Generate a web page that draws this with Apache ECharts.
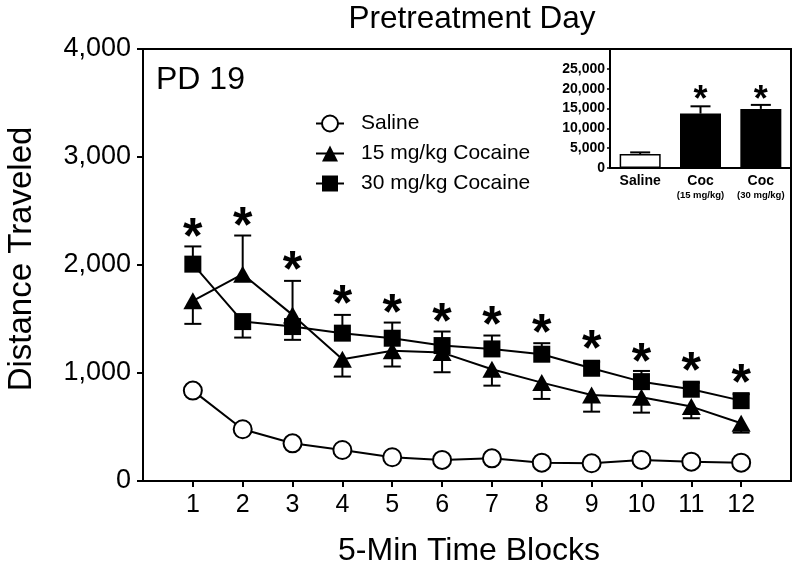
<!DOCTYPE html>
<html>
<head>
<meta charset="utf-8">
<script src="https://cdn.jsdelivr.net/npm/echarts@6/dist/echarts.min.js"></script>
<style>html,body{margin:0;padding:0;background:#fff}#chart{width:800px;height:571px}</style>
</head>
<body>
<div id="chart"></div>
<script>
// ---- data ----
const blocks = [1,2,3,4,5,6,7,8,9,10,11,12];
const saline = [837,479,349,287,220,195,210,170,164,195,179,170];
const salineSem = [40,30,25,20,20,20,20,15,15,20,15,15];
const salineDir = [-1,-1,-1,-1,-1,-1,-1,-1,-1,-1,-1,-1];
const coc15 = [1668,1915,1538,1128,1205,1189,1035,911,797,775,689,535];
const coc15Sem = [213,358,315,161,145,182,152,151,155,142,108,87];
const coc15Dir = [-1,1,1,-1,-1,-1,-1,-1,-1,-1,-1,-1];
const coc30 = [2008,1476,1430,1369,1322,1254,1223,1174,1044,920,850,744];
const coc30Sem = [164,148,123,169,145,130,124,102,60,99,60,60];
const coc30Dir = [1,-1,-1,1,1,1,1,1,1,1,1,1];
const sigY = [2333,2435,2023,1708,1631,1548,1517,1446,1291,1177,1091,982];

const insetCats = ['Saline','Coc (15 mg/kg)','Coc (30 mg/kg)'];
const insetMeans = [3535,13712,14899];
const insetSem = [400,1840,1010];
const insetSig = [null,18600,18600];
const insetTicks = [0,5000,10000,15000,20000,25000];

const FONT = 'Liberation Sans, Arial, sans-serif';
const fmt = v => Number(v).toLocaleString('en-US');

function errSeries(name, means, sems, dirs, xi, yi, hw) {
  return {
    type: 'custom', name: name, xAxisIndex: xi, yAxisIndex: yi, z: 1, silent: true,
    data: means.map((m, i) => [xi === 0 ? blocks[i] : i, m, sems[i], dirs[i]]),
    renderItem: function (params, api) {
      const x = api.value(0), m = api.value(1), s = api.value(2), d = api.value(3);
      const p0 = api.coord([x, m]);
      const p1 = api.coord([x, m + d * s]);
      const st = {stroke: '#000', lineWidth: 2};
      return {type: 'group', children: [
        {type: 'line', shape: {x1: p0[0], y1: p0[1], x2: p1[0], y2: p1[1]}, style: st},
        {type: 'line', shape: {x1: p1[0] - hw, y1: p1[1], x2: p1[0] + hw, y2: p1[1]}, style: st}
      ]};
    }
  };
}

function starSeries(xs, ys, xi, yi, size, dy) {
  const data = [];
  ys.forEach((y, i) => { if (y != null) data.push([xs[i], y]); });
  return {
    type: 'custom', xAxisIndex: xi, yAxisIndex: yi, z: 5, silent: true, data: data,
    renderItem: function (params, api) {
      const p = api.coord([api.value(0), api.value(1)]);
      return {type: 'text', x: p[0], y: p[1] + dy, style: {
        text: '*', fontSize: size, fontWeight: 'bold', fontFamily: FONT, fill: '#000',
        align: 'center', verticalAlign: 'middle'}};
    }
  };
}

const chart = echarts.init(document.getElementById('chart'), null, {renderer: 'canvas'});
const option = {
  backgroundColor: '#fff',
  animation: false,
  textStyle: {fontFamily: FONT, color: '#000'},
  grid: [
    {left: 143, right: 9, top: 49, bottom: 90, show: true, borderColor: '#000', borderWidth: 2, containLabel: false},
    {left: 610, right: 9, top: 49, bottom: 403, show: false, containLabel: false}
  ],
  xAxis: [
    {type: 'value', gridIndex: 0, min: 0, max: 13, interval: 1,
     axisLine: {lineStyle: {color: '#000', width: 2}},
     axisTick: {length: 6, lineStyle: {color: '#000', width: 2}, customValues: blocks},
     axisLabel: {fontSize: 25, color: '#000', margin: 12, fontFamily: FONT, customValues: blocks},
     splitLine: {show: false}},
    {type: 'category', gridIndex: 1, data: insetCats, boundaryGap: true,
     axisLine: {lineStyle: {color: '#000', width: 2}},
     axisTick: {show: false},
     axisLabel: {margin: 5, interval: 0, fontFamily: FONT, color: '#000',
       formatter: function (v) {
         const i = v.indexOf(' (');
         if (i < 0) return '{a|' + v + '}';
         return '{a|' + v.slice(0, i) + '}\n{b|' + v.slice(i + 1) + '}';
       },
       rich: {a: {fontSize: 14, fontWeight: 'bold', fontFamily: FONT, lineHeight: 16},
              b: {fontSize: 9.5, fontWeight: 'bold', fontFamily: FONT, lineHeight: 13}}},
     splitLine: {show: false}}
  ],
  yAxis: [
    {type: 'value', gridIndex: 0, min: 0, max: 4000, interval: 1000,
     axisLine: {show: true, lineStyle: {color: '#000', width: 2}},
     axisTick: {show: true, length: 6, lineStyle: {color: '#000', width: 2}},
     axisLabel: {fontSize: 27, color: '#000', margin: 12, fontFamily: FONT, formatter: fmt},
     splitLine: {show: false}},
    {type: 'value', gridIndex: 1, min: 0, max: 30000, interval: 5000,
     axisLine: {show: true, lineStyle: {color: '#000', width: 2}},
     axisTick: {show: true, length: 3, lineStyle: {color: '#000', width: 1.5}, customValues: insetTicks},
     axisLabel: {fontSize: 14, fontWeight: 'bold', color: '#000', margin: 5, fontFamily: FONT,
       formatter: fmt, customValues: insetTicks},
     splitLine: {show: false}}
  ],
  legend: {
    data: ['Saline', '15 mg/kg Cocaine', '30 mg/kg Cocaine'],
    orient: 'vertical', left: 315, top: 113, padding: 0, itemWidth: 28, itemHeight: 20, itemGap: 9,
    textStyle: {fontSize: 21, color: '#000', fontFamily: FONT, padding: [0, 0, 0, 12]},
    selectedMode: false
  },
  graphic: [
    {type: 'text', x: 472, y: 19, style: {text: 'Pretreatment Day', fontSize: 31.5, fontFamily: FONT, fill: '#000', align: 'center', verticalAlign: 'middle'}},
    {type: 'text', x: 156, y: 80, style: {text: 'PD 19', fontSize: 32, fontFamily: FONT, fill: '#000', align: 'left', verticalAlign: 'middle'}},
    {type: 'text', x: 469, y: 551, style: {text: '5-Min Time Blocks', fontSize: 32, fontFamily: FONT, fill: '#000', align: 'center', verticalAlign: 'middle'}},
    {type: 'text', x: 22, y: 259, rotation: Math.PI / 2, style: {text: 'Distance Traveled', fontSize: 33, fontFamily: FONT, fill: '#000', align: 'center', verticalAlign: 'middle'}}
  ],
  series: [
    errSeries('e0', saline, salineSem, salineDir, 0, 0, 8.5),
    errSeries('e1', coc15, coc15Sem, coc15Dir, 0, 0, 8.5),
    errSeries('e2', coc30, coc30Sem, coc30Dir, 0, 0, 8.5),
    {type: 'line', name: 'Saline', xAxisIndex: 0, yAxisIndex: 0, z: 3,
     data: blocks.map((b, i) => [b, saline[i]]),
     symbol: 'circle', symbolSize: 18, showAllSymbol: true,
     itemStyle: {color: '#fff', borderColor: '#000', borderWidth: 2},
     lineStyle: {color: '#000', width: 2}},
    {type: 'line', name: '15 mg/kg Cocaine', xAxisIndex: 0, yAxisIndex: 0, z: 3,
     data: blocks.map((b, i) => [b, coc15[i]]),
     symbol: 'triangle', symbolSize: [19, 17], showAllSymbol: true,
     itemStyle: {color: '#000'},
     lineStyle: {color: '#000', width: 2}},
    {type: 'line', name: '30 mg/kg Cocaine', xAxisIndex: 0, yAxisIndex: 0, z: 3,
     data: blocks.map((b, i) => [b, coc30[i]]),
     symbol: 'rect', symbolSize: 17, showAllSymbol: true,
     itemStyle: {color: '#000'},
     lineStyle: {color: '#000', width: 2}},
    starSeries(blocks, sigY, 0, 0, 50, 10),
    errSeries('ie', insetMeans, insetSem, [1,1,1], 1, 1, 10),
    {type: 'bar', name: 'inset', xAxisIndex: 1, yAxisIndex: 1, barWidth: 41, z: 2,
     data: insetMeans.map((v, i) => ({value: v, itemStyle: i === 0 ?
       {color: '#fff', borderColor: '#000', borderWidth: 1.5} : {color: '#000'}}))},
    starSeries([0,1,2], insetSig, 1, 1, 36, 7)
  ]
};
chart.setOption(option);
</script>
</body>
</html>
